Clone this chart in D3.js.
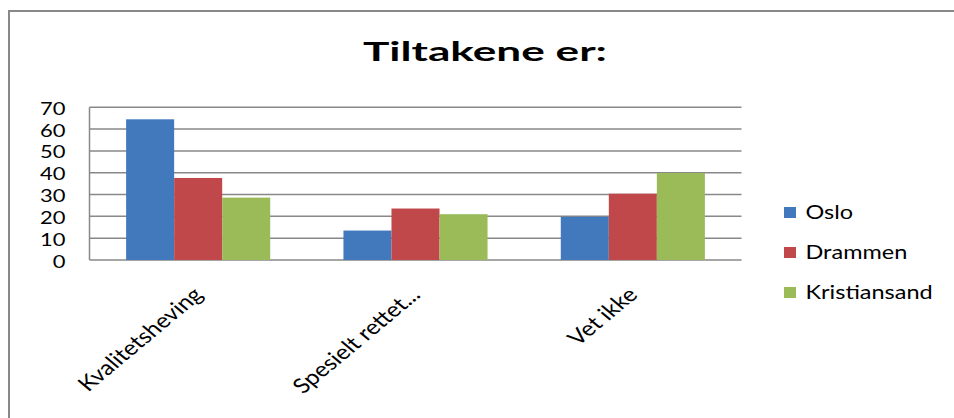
<!DOCTYPE html>
<html>
<head>
<meta charset="utf-8">
<script src="https://cdn.jsdelivr.net/npm/d3@7"></script>
<style>
  body { margin: 0; background: #fff; }
  text { font-family: Lato, "Open Sans", sans-serif; fill: #000; }
</style>
</head>
<body>
<script>
const width = 954;
const height = 418;

// chart data
const categories = ["Kvalitetsheving", "Spesielt rettet...", "Vet ikke"];
const seriesNames = ["Oslo", "Drammen", "Kristiansand"];
const oslo = [64.5, 13.5, 19.8];
const drammen = [37.6, 23.6, 30.4];
const kristiansand = [28.6, 21.0, 39.9];
const yTicks = [0, 10, 20, 30, 40, 50, 60, 70];
const colours = ["#4279BD", "#C0474A", "#9BBB59"];

const seriesValues = [oslo, drammen, kristiansand];

const svg = d3
    .select("body")
    .append("svg")
    .attr("width", width)
    .attr("height", height);

// outer chart frame (right/bottom fall outside the picture)
svg.append("rect")
    .attr("x", 9)
    .attr("y", 11)
    .attr("width", 1000)
    .attr("height", 500)
    .attr("fill", "none")
    .attr("stroke", "#888")
    .attr("stroke-width", 2);

// title
svg.append("text")
    .attr("x", 363)
    .attr("y", 61)
    .attr("font-size", 26)
    .attr("font-weight", "bold")
    .attr("textLength", 244)
    .attr("lengthAdjust", "spacingAndGlyphs")
    .text("Tiltakene er:");

const plot = { left: 89.5, right: 741.5, top: 107.3, bottom: 260 };

const y = d3.scaleLinear().domain([0, 70]).range([plot.bottom, plot.top]);

const x0 = d3
    .scaleBand()
    .domain(categories)
    .range([plot.left, plot.right])
    .paddingInner(0.337)
    .paddingOuter(0.337 / 2);

const x1 = d3
    .scaleBand()
    .domain(seriesNames)
    .range([0, x0.bandwidth()]);

// gridlines
svg.append("g")
    .selectAll("line")
    .data(yTicks)
    .enter()
    .append("line")
    .attr("x1", plot.left)
    .attr("x2", plot.right)
    .attr("y1", (d) => y(d))
    .attr("y2", (d) => y(d))
    .attr("stroke", "#888")
    .attr("stroke-width", 1.5);

// left axis line
svg.append("line")
    .attr("x1", plot.left)
    .attr("x2", plot.left)
    .attr("y1", y(70))
    .attr("y2", y(0))
    .attr("stroke", "#888")
    .attr("stroke-width", 1.5);

// y tick labels (horizontally widened like the reference)
svg.append("g")
    .selectAll("text")
    .data(yTicks)
    .enter()
    .append("text")
    .attr("text-anchor", "end")
    .attr("font-size", 18)
    .attr("transform", (d) => `translate(65.5,${y(d) + 7.5}) scale(1.22,1)`)
    .text((d) => d);

// bars
const barData = [];
seriesNames.forEach((s, si) => {
    categories.forEach((c, ci) => {
        barData.push({ cat: c, series: s, value: seriesValues[si][ci], colour: colours[si] });
    });
});

svg.append("g")
    .selectAll("rect")
    .data(barData)
    .enter()
    .append("rect")
    .attr("x", (d) => x0(d.cat) + x1(d.series))
    .attr("y", (d) => y(d.value))
    .attr("width", x1.bandwidth())
    .attr("height", (d) => y(0) - y(d.value))
    .attr("fill", (d) => d.colour);

// category labels, rotated
svg.append("g")
    .selectAll("text")
    .data(categories)
    .enter()
    .append("text")
    .attr("text-anchor", "end")
    .attr("font-size", 20.5)
    .attr(
        "transform",
        (d) => `translate(${x0(d) + x0.bandwidth() / 2 + 6},${y(0) + 36}) scale(1.2,1) rotate(-45)`
    )
    .text((d) => d);

// legend
const legendY = d3.scalePoint().domain(seriesNames).range([212.5, 292.5]);

const legend = svg
    .append("g")
    .selectAll("g")
    .data(seriesNames)
    .enter()
    .append("g");

legend
    .append("rect")
    .attr("x", 784)
    .attr("y", (d) => legendY(d) - 5.5)
    .attr("width", 12)
    .attr("height", 11)
    .attr("fill", (d, i) => colours[i]);

legend
    .append("text")
    .attr("font-size", 18.5)
    .attr("transform", (d) => `translate(805.5,${legendY(d) + 6.5}) scale(1.27,1)`)
    .text((d) => d);
</script>
</body>
</html>
